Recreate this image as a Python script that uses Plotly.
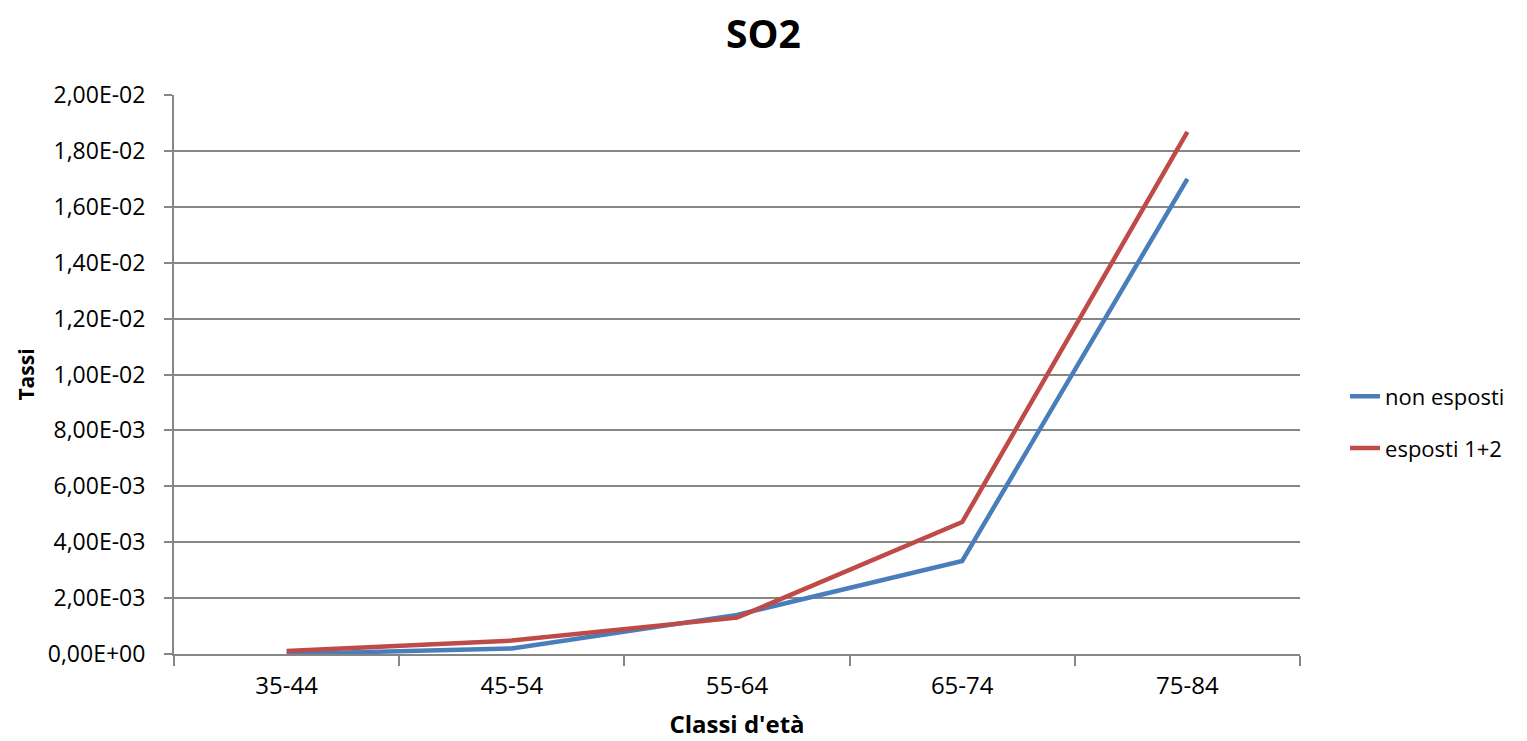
import plotly.graph_objects as go

categories = ["35-44", "45-54", "55-64", "65-74", "75-84"]
non_esposti = [0.0000, 0.0002, 0.0014, 0.00333, 0.0170]
esposti_1_2 = [0.00011, 0.00048, 0.0013, 0.00472, 0.01868]
y_tick_vals = [0.0, 0.002, 0.004, 0.006, 0.008, 0.010, 0.012, 0.014, 0.016, 0.018, 0.020]
y_tick_text = ["0,00E+00", "2,00E-03", "4,00E-03", "6,00E-03", "8,00E-03", "1,00E-02",
               "1,20E-02", "1,40E-02", "1,60E-02", "1,80E-02", "2,00E-02"]

font_family = "Open Sans, DejaVu Sans, sans-serif"
grid_color = "#868686"

fig = go.Figure()
fig.add_trace(go.Scatter(x=categories, y=non_esposti, mode="lines", name="non esposti",
                         legendgroup="a", line=dict(color="#4A7EBB", width=4.5)))
fig.add_trace(go.Scatter(x=categories, y=esposti_1_2, mode="lines", name="esposti 1+2",
                         legendgroup="b", line=dict(color="#BE4B48", width=4.5)))

fig.update_layout(
    width=1527, height=741,
    paper_bgcolor="white", plot_bgcolor="white",
    margin=dict(l=174, r=227, t=95, b=87),
    title=dict(text="<b>SO2</b>", x=0.5, xanchor="center", y=0.953, yanchor="middle",
               font=dict(family=font_family, size=39, color="black")),
    font=dict(family=font_family, color="black"),
    legend=dict(x=1.04, y=0.414, xanchor="left", yanchor="middle",
                font=dict(size=22, color="black"), tracegroupgap=20,
                traceorder="grouped"),
    showlegend=True,
)
fig.update_xaxes(
    type="category", tickson="boundaries", ticks="outside", ticklen=10, tickwidth=2,
    tickcolor=grid_color, showline=True, linecolor=grid_color, linewidth=2,
    showgrid=False, tickfont=dict(size=24, color="black"), ticklabelstandoff=9,
    title=dict(text="<b>Classi d'età</b>", font=dict(size=24, color="black"), standoff=16),
    range=[-0.5, 4.5], automargin=False,
)
fig.update_yaxes(
    range=[0, 0.02], tickvals=y_tick_vals, ticktext=y_tick_text,
    ticks="outside", ticklen=8, tickwidth=2, tickcolor=grid_color,
    showline=True, linecolor=grid_color, linewidth=2,
    showgrid=True, gridcolor=grid_color, gridwidth=2, zeroline=False,
    tickfont=dict(size=23, color="black"), ticklabelstandoff=14,
    title=dict(text="<b>Tassi</b>", font=dict(size=21, color="black"), standoff=7),
    automargin=False,
)

fig.write_html("out.html")
